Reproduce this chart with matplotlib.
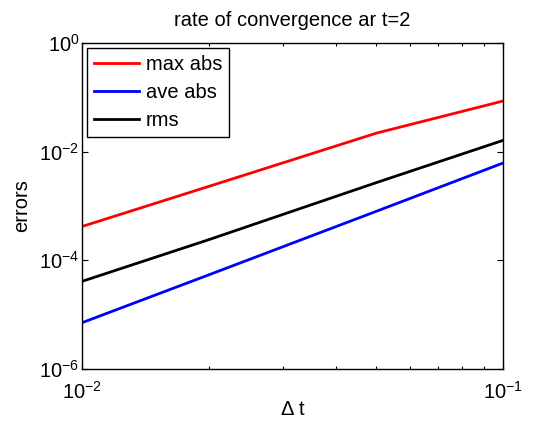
import matplotlib
matplotlib.use("Agg")
import matplotlib.pyplot as plt
from matplotlib.ticker import LogLocator, NullLocator, NullFormatter

plt.rcParams["font.family"] = ["Liberation Sans", "DejaVu Sans"]
plt.rcParams["mathtext.fontset"] = "custom"
plt.rcParams["mathtext.rm"] = "Liberation Sans"

# time step sizes and the error norms
dt = [0.01, 0.02, 0.05, 0.1]
max_abs = [4.2e-4, 2.3e-3, 2.2e-2, 8.6e-2]
ave_abs = [7.1e-6, 5.4e-5, 8.0e-4, 6.2e-3]
rms = [4.1e-5, 2.4e-4, 2.7e-3, 1.62e-2]

FS = 14.5

fig = plt.figure(figsize=(5.37, 4.23), dpi=100)
ax = fig.add_axes([0.153, 0.128, 0.784, 0.770])

ax.loglog(dt, max_abs, color="#ff0000", lw=2, label="max abs")
ax.loglog(dt, ave_abs, color="#0000ff", lw=2, label="ave abs")
ax.loglog(dt, rms, color="#000000", lw=2, label="rms")

ax.set_xlim(1e-2, 1e-1)
ax.set_ylim(1e-6, 1e0)
ax.set_yticks([1e-6, 1e-4, 1e-2, 1e0])
ax.yaxis.set_minor_locator(NullLocator())
ax.xaxis.set_minor_locator(LogLocator(base=10, subs=range(2, 10)))
ax.xaxis.set_minor_formatter(NullFormatter())

ax.tick_params(which="both", direction="in", top=True, right=True,
               labelsize=FS, width=0.8)
ax.tick_params(which="major", length=4)
ax.tick_params(which="minor", length=2)
ax.tick_params(axis="x", pad=9)
ax.tick_params(axis="y", pad=2)
for s in ax.spines.values():
    s.set_linewidth(1.0)

ax.set_title("rate of convergence ar t=2", fontsize=FS, pad=12)
ax.set_xlabel("Δ t", fontsize=FS, labelpad=-2)
ax.set_ylabel("errors", fontsize=FS, labelpad=6)

leg = ax.legend(loc="upper left", fontsize=FS, frameon=True, fancybox=False,
                edgecolor="black", framealpha=1, handlelength=2.2,
                handletextpad=0.35, labelspacing=0.45, borderaxespad=0.25,
                borderpad=0.35)
leg.get_frame().set_linewidth(1.0)

fig.savefig("out.png", dpi=100)
